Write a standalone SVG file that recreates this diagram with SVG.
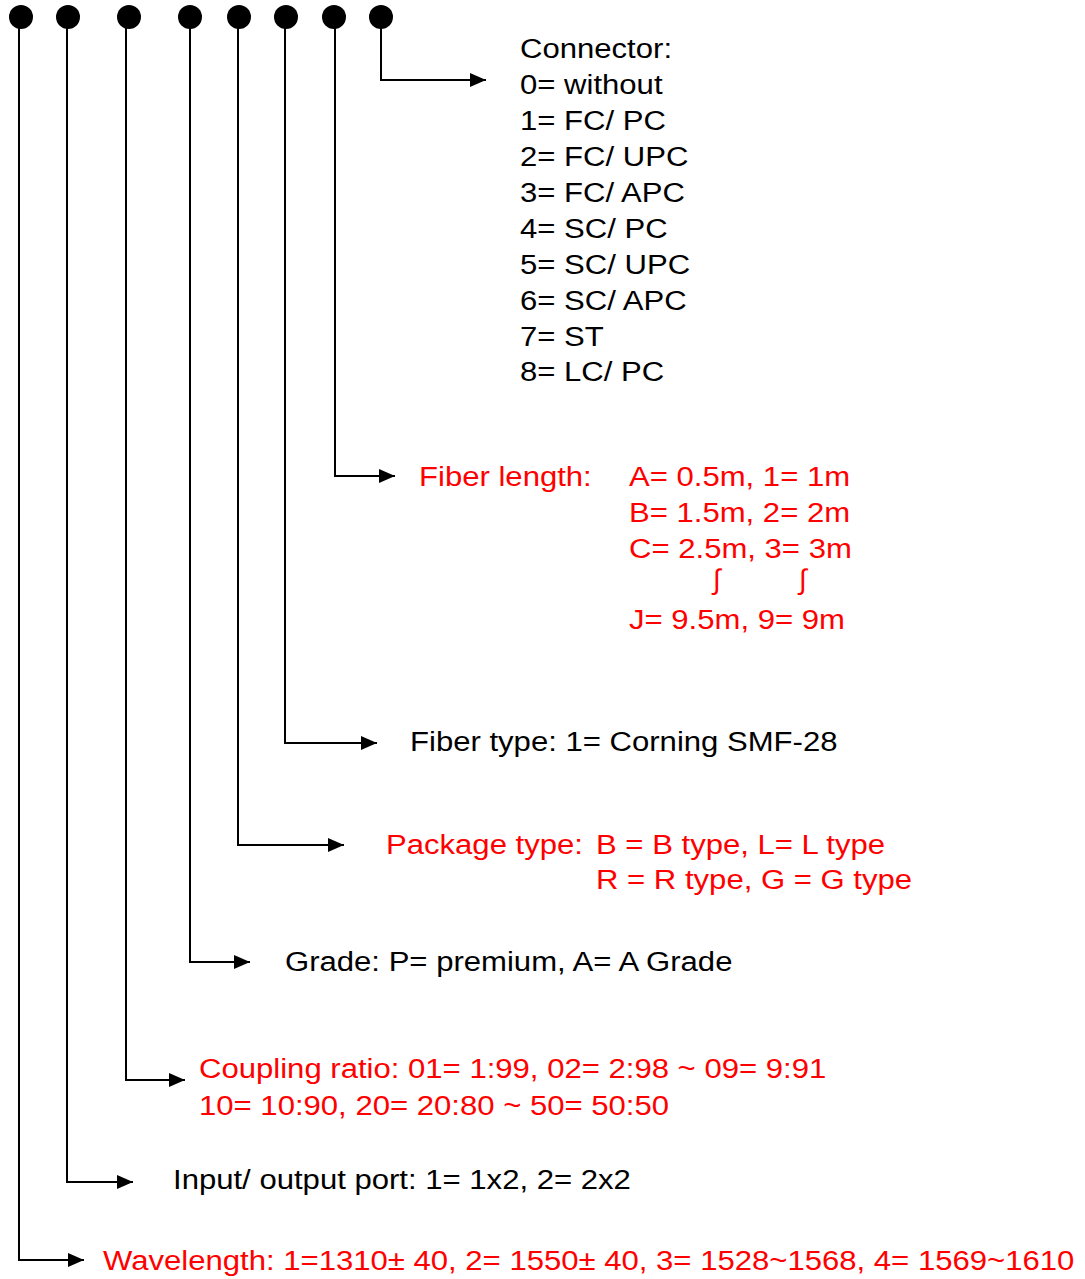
<svg xmlns="http://www.w3.org/2000/svg" width="1085" height="1279" viewBox="0 0 1085 1279">
<defs>
<marker id="ah" markerWidth="16" markerHeight="14" refX="16" refY="7" orient="auto" markerUnits="userSpaceOnUse">
<path d="M0,0 L16,7 L0,14 Z" fill="#000"/>
</marker>
<style>
.t{font-family:"Liberation Sans",Arial,sans-serif;font-size:28px;fill:#000}
.r{fill:#ff0000}
.ln{fill:none;stroke:#000;stroke-width:2}
.dot{fill:#000}
</style>
</defs>
<g id="dots">
<circle class="dot" cx="21" cy="17" r="12"/>
<circle class="dot" cx="68" cy="17" r="12"/>
<circle class="dot" cx="129" cy="17" r="12"/>
<circle class="dot" cx="190" cy="17" r="12"/>
<circle class="dot" cx="239" cy="17" r="12"/>
<circle class="dot" cx="286" cy="17" r="12"/>
<circle class="dot" cx="334" cy="17" r="12"/>
<circle class="dot" cx="381" cy="17" r="12"/>
</g>
<g id="connectors">
<path class="ln" d="M381,17 V80 H486" marker-end="url(#ah)"/>
<path class="ln" d="M335,17 V476 H395" marker-end="url(#ah)"/>
<path class="ln" d="M285,17 V743 H377" marker-end="url(#ah)"/>
<path class="ln" d="M238,17 V845 H344" marker-end="url(#ah)"/>
<path class="ln" d="M190,17 V962 H250" marker-end="url(#ah)"/>
<path class="ln" d="M126,17 V1080 H185" marker-end="url(#ah)"/>
<path class="ln" d="M67,17 V1182 H133" marker-end="url(#ah)"/>
<path class="ln" d="M19,17 V1260 H84" marker-end="url(#ah)"/>
</g>
<g id="connector">
<text class="t" transform="matrix(1.11 0 0 1 520 58)">Connector:</text>
<text class="t" transform="matrix(1.11 0 0 1 520 94)">0= without</text>
<text class="t" transform="matrix(1.11 0 0 1 520 130)">1= FC/ PC</text>
<text class="t" transform="matrix(1.11 0 0 1 520 166)">2= FC/ UPC</text>
<text class="t" transform="matrix(1.11 0 0 1 520 202)">3= FC/ APC</text>
<text class="t" transform="matrix(1.11 0 0 1 520 238)">4= SC/ PC</text>
<text class="t" transform="matrix(1.11 0 0 1 520 274)">5= SC/ UPC</text>
<text class="t" transform="matrix(1.11 0 0 1 520 310)">6= SC/ APC</text>
<text class="t" transform="matrix(1.11 0 0 1 520 346)">7= ST</text>
<text class="t" transform="matrix(1.11 0 0 1 520 381)">8= LC/ PC</text>
</g>
<g id="fiber-length">
<text class="t r" transform="matrix(1.11 0 0 1 419 486)">Fiber length:</text>
<text class="t r" transform="matrix(1.11 0 0 1 629 486)">A= 0.5m, 1= 1m</text>
<text class="t r" transform="matrix(1.11 0 0 1 629 522)">B= 1.5m, 2= 2m</text>
<text class="t r" transform="matrix(1.11 0 0 1 629 558)">C= 2.5m, 3= 3m</text>
<text class="t r" transform="matrix(1 0 0 1 713 589)">∫</text>
<text class="t r" transform="matrix(1 0 0 1 799 589)">∫</text>
<text class="t r" transform="matrix(1.11 0 0 1 629 629)">J= 9.5m, 9= 9m</text>
</g>
<g id="fiber-type">
<text class="t" transform="matrix(1.11 0 0 1 410 751)">Fiber type: 1= Corning SMF-28</text>
</g>
<g id="package-type">
<text class="t r" transform="matrix(1.11 0 0 1 386 854)">Package type:</text>
<text class="t r" transform="matrix(1.11 0 0 1 596 854)">B = B type, L= L type</text>
<text class="t r" transform="matrix(1.11 0 0 1 596 889)">R = R type, G = G type</text>
</g>
<g id="grade">
<text class="t" transform="matrix(1.11 0 0 1 285 971)">Grade: P= premium, A= A Grade</text>
</g>
<g id="coupling-ratio">
<text class="t r" transform="matrix(1.11 0 0 1 199 1078)">Coupling ratio: 01= 1:99, 02= 2:98 ~ 09= 9:91</text>
<text class="t r" transform="matrix(1.11 0 0 1 199 1115)">10= 10:90, 20= 20:80 ~ 50= 50:50</text>
</g>
<g id="port">
<text class="t" transform="matrix(1.11 0 0 1 173 1189)">Input/ output port: 1= 1x2, 2= 2x2</text>
</g>
<g id="wavelength">
<text class="t r" transform="matrix(1.11 0 0 1 103 1270)">Wavelength: 1=1310± 40, 2= 1550± 40, 3= 1528~1568, 4= 1569~1610</text>
</g>
</svg>
